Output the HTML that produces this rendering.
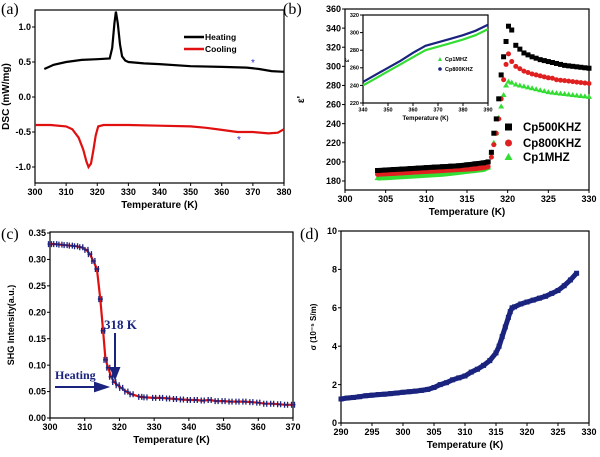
<!DOCTYPE html>
<html><head><meta charset="utf-8"><style>
html,body{margin:0;padding:0;background:#fff}
svg{display:block}
</style></head><body>
<svg id="fig" width="600" height="457" viewBox="0 0 600 457" xmlns="http://www.w3.org/2000/svg" font-family="Liberation Sans, sans-serif"></svg>
<script>
// Panel a data
const aHeatT=[303,306,310,315,320,324,324.8,325.5,326,326.6,327.3,328,329,330,335,340,350,360,368,372,376,380];
const aHeatV=[0.40,0.46,0.50,0.53,0.54,0.55,0.7,1.05,1.22,1.05,0.75,0.58,0.52,0.50,0.48,0.47,0.44,0.43,0.42,0.40,0.37,0.36];
const aCoolT=[300,305,310,312,314,315.5,316.5,317.2,318,318.8,319.5,320.3,322,330,340,350,355,360,365,370,375,378,380];
const aCoolV=[-0.40,-0.40,-0.42,-0.46,-0.58,-0.75,-0.92,-1.0,-0.95,-0.75,-0.55,-0.42,-0.40,-0.40,-0.41,-0.42,-0.44,-0.47,-0.50,-0.50,-0.52,-0.51,-0.46];
const aXTicks=[300,310,320,330,340,350,360,370,380];
const aYTicks=[1.0,0.5,0.0,-0.5,-1.0];
const aYLabels=["1.0","0.5","0.0","-0.5","-1.0"];
// Panel b data
const bT=[304,305,306,307,308,309,310,311,312,313,314,315,316,317,317.6,318,318.3,318.6,318.9,319.2,319.5,319.8,320.1,320.5,321,321.5,322,322.5,323,323.5,324,324.5,325,325.5,326,326.5,327,327.5,328,328.5,329,329.5,330];
const b500=[191,191.5,192,192.5,193,193.5,194,194.5,195,195.5,196,197,198,199,200,210,230,245,266,291,310,326,342,338,322,318,314,312,310,308.5,307,306,305,304,303,302,301,300.5,300,299.5,299,298.5,298];
const b800=[187,187.5,188,188.5,189,189.5,190,190.5,191,191.5,192,192.5,193,194,195,205,218,230,245,266,286,302,313,305,300,297.5,295,293.5,292,291,290,289,288,287.5,286,285.5,285,284.5,284,283.5,283,282.5,282];
const b1M=[183,183.5,184,184.5,185,185.5,186,186.5,187,188,189,190,191,192,194,210,220,230,246,258,270,280,284,283,281,280,279,278,277,276,275,274,273,272.5,272,271.5,271,270.5,270,269.5,269,268.5,268];
const bXTicks=[300,305,310,315,320,325,330];
const bYTicks=[180,200,220,240,260,280,300,320,340,360];
const insT=[340,345,350,355,360,365,370,375,380,385,390];
const insBlue=[244,252,260,268,277,285,289,293,297,302,309];
const insGreen=[240,248,256,264,272,280,284,288,292,297,304];
const insXTicks=[340,350,360,370,380,390];
const insYTicks=[220,240,260,280,300,320];
// Panel c data
const cT=[300,301.5,303,304.5,306,307.5,309,310.5,311.5,312.5,313.5,314.5,315.3,316,316.8,317.6,318.5,319.5,320.5,322,323.5,326,327.5,330,332,334,336,338,340,342,344,346,348,350,352,354,356,358,360,362,364,366,368,370];
const cV=[0.329,0.329,0.328,0.327,0.326,0.325,0.323,0.318,0.31,0.297,0.282,0.225,0.165,0.11,0.095,0.078,0.068,0.062,0.057,0.05,0.045,0.04,0.039,0.038,0.038,0.037,0.036,0.035,0.034,0.034,0.033,0.034,0.032,0.032,0.031,0.031,0.031,0.03,0.029,0.027,0.027,0.026,0.025,0.025];
const cXTicks=[300,310,320,330,340,350,360,370];
const cYTicks=[0,0.05,0.10,0.15,0.20,0.25,0.30,0.35];
const cYLabels=["0.00","0.05","0.10","0.15","0.20","0.25","0.30","0.35"];
// Panel d data
const dT=[290,291,292,293,294,295,296,297,298,299,300,301,302,303,304,305,306,307,308,309,310,311,312,313,314,315,315.5,316,316.5,317,317.3,317.6,318,319,320,321,322,323,324,325,326,327,328];
const dV=[1.25,1.3,1.33,1.37,1.42,1.45,1.48,1.5,1.53,1.56,1.6,1.63,1.66,1.7,1.75,1.85,2.0,2.1,2.25,2.35,2.45,2.65,2.8,3.0,3.25,3.65,4.0,4.5,5.0,5.5,5.8,6.0,6.05,6.2,6.3,6.4,6.5,6.6,6.75,6.9,7.15,7.45,7.8];
const dXTicks=[290,295,300,305,310,315,320,325,330];
const dYTicks=[0,2,4,6,8,10];

const NS="http://www.w3.org/2000/svg";
const svg=document.getElementById('fig');
function el(tag,attrs,parent,txt){const e=document.createElementNS(NS,tag);for(const k in attrs)e.setAttribute(k,attrs[k]);if(txt!==undefined)e.textContent=txt;(parent||svg).appendChild(e);return e;}
function scale(d0,d1,r0,r1){return v=>r0+(v-d0)/(d1-d0)*(r1-r0);}
function axes(g,x0,x1,y0,y1,sx,sy,xt,yt,yl,fs,xtitle,ytitle,ytx,ytitleSize){
  el('rect',{x:x0,y:y0,width:x1-x0,height:y1-y0,fill:'none',stroke:'#000','stroke-width':1.2},g);
  xt.forEach((t,i)=>{const x=sx(t);
    const tk=el('line',{x1:x,x2:x,y1:y1,y2:y1+3,stroke:'#000'},g);
    
    const lb=el('text',{x:x,y:y1+fs+3,'font-size':fs,'font-weight':'bold','text-anchor':'middle'},g,String(t));
    
  });
  yt.forEach((t,i)=>{const y=sy(t);
    const tk=el('line',{x1:x0-3,x2:x0,y1:y,y2:y,stroke:'#000'},g);
    
    const lb=el('text',{x:x0-4,y:y+fs*0.35,'font-size':fs,'font-weight':'bold','text-anchor':'end'},g,yl?yl[i]:String(t));
    
  });
  if(xtitle){const xtl=el('text',{x:(x0+x1)/2,y:y1+fs+16,'font-size':fs+1,'font-weight':'bold','text-anchor':'middle'},g,xtitle);
    }
  if(ytitle){const cy=(y0+y1)/2;const ytl=el('text',{x:ytx,y:cy,'font-size':ytitleSize||fs,'font-weight':'bold','text-anchor':'middle',transform:`rotate(-90 ${ytx} ${cy})`},g,ytitle);
    }
}
function pathD(xs,ys,sx,sy){return xs.map((t,i)=>(i?'L':'M')+sx(t).toFixed(1)+','+sy(ys[i]).toFixed(1)).join('');}
function plabel(txt,x,y){const t=el('text',{x:x,y:y,'font-size':16,'font-family':'Liberation Serif, serif'},svg,txt);}

// ---- Panel a
{const g=el('g',{});
const sx=scale(300,380,35,284),sy=scale(0,1,97,27);
axes(g,35,284,10,183,sx,sy,aXTicks,aYTicks,aYLabels,9,'Temperature (K)','DSC (mW/mg)',9,10);
const h=el('path',{d:pathD(aHeatT,aHeatV,sx,sy),fill:'none',stroke:'#000','stroke-width':2.2},g);

const c=el('path',{d:pathD(aCoolT,aCoolV,sx,sy),fill:'none',stroke:'#e01010','stroke-width':2.2},g);

const l1=el('line',{x1:184,x2:204,y1:37,y2:37,stroke:'#000','stroke-width':2.5},g);
const t1=el('text',{x:205,y:40,'font-size':8.5,'font-weight':'bold'},g,'Heating');
const l2=el('line',{x1:184,x2:204,y1:49,y2:49,stroke:'#e01010','stroke-width':2.5},g);
const t2=el('text',{x:205,y:52,'font-size':8.5,'font-weight':'bold'},g,'Cooling');
const s1=el('text',{x:253,y:66,'font-size':10,fill:'#3030d0','text-anchor':'middle'},g,'*');
const s2=el('text',{x:239,y:143,'font-size':10,fill:'#3030d0','text-anchor':'middle'},g,'*');
}
plabel('(a)',1,14);

// ---- Panel b
{const g=el('g',{});
const sx=scale(300,330,345,589),sy=scale(180,360,181,9);
axes(g,345,589,9,190,sx,sy,bXTicks,bYTicks,null,9,'Temperature (K)',"ε'",304,10);
function marks(vals,color,shape,name){vals.forEach((v,i)=>{const x=sx(bT[i]),y=sy(v);let m;
  if(shape==='sq')m=el('rect',{x:x-2.5,y:y-2.5,width:5,height:5,fill:color},g);
  else if(shape==='ci')m=el('circle',{cx:x,cy:y,r:2.5,fill:color},g);
  else m=el('polygon',{points:`${x},${y-3} ${x-3},${y+2} ${x+3},${y+2}`,fill:color},g);
  });
  const l=el('path',{d:pathD(bT.slice(0,15),vals.slice(0,15),sx,sy),fill:'none',stroke:color,'stroke-width':5},g);
  }
marks(b1M,'#33dd33','tr','cp1mhz-point');
marks(b800,'#e02020','ci','cp800khz-point');
marks(b500,'#000','sq','cp500khz-point');
const leg=[['Cp500KHZ','#000','sq',127],['Cp800KHZ','#e02020','ci',143],['Cp1MHZ','#33dd33','tr',157]];
leg.forEach(([n,c,s,y])=>{let m;
  if(s==='sq')m=el('rect',{x:505,y:y-3.5,width:7,height:7,fill:c},g);
  else if(s==='ci')m=el('circle',{cx:508.5,cy:y,r:3.5,fill:c},g);
  else m=el('polygon',{points:`508.5,${y-4} 504.5,${y+3} 512.5,${y+3}`,fill:c},g);
  
  const t=el('text',{x:523,y:y+4,'font-size':11.5,'font-weight':'bold'},g,n);});
// inset
const isx=scale(340,390,363,488),isy=scale(220,320,103,15);
el('rect',{x:363,y:15,width:125,height:88,fill:'#fff'},g);
axes(g,363,488,15,103,isx,isy,insXTicks,insYTicks,null,5.5,null,null);
const it=el('text',{x:425.5,y:120,'font-size':6,'font-weight':'bold','text-anchor':'middle'},g,'Temperature (K)');
const iy=el('text',{x:349,y:60,'font-size':6,'font-weight':'bold','text-anchor':'middle',transform:'rotate(-90 349 60)'},g,"ε'");
const lb=el('path',{d:pathD(insT,insBlue,isx,isy),fill:'none',stroke:'#1a237e','stroke-width':2.2},g);
const lg=el('path',{d:pathD(insT,insGreen,isx,isy),fill:'none',stroke:'#33dd33','stroke-width':2.2},g);
const m1=el('polygon',{points:'440,57 438,61 442,61',fill:'#33dd33'},g);
const i1=el('text',{x:445,y:61,'font-size':5.5,'font-weight':'bold'},g,'Cp1MHZ');
const m2=el('circle',{cx:440,cy:69,r:1.8,fill:'#1a237e'},g);
const i2=el('text',{x:445,y:71,'font-size':5.5,'font-weight':'bold'},g,'Cp800KHZ');
}
plabel('(b)',283,14);

// ---- Panel c
{const g=el('g',{});
const sx=scale(300,370,50,293),sy=scale(0,0.35,418,233);
axes(g,50,293,232,418,sx,sy,cXTicks,cYTicks,cYLabels,9,'Temperature (K)','SHG Intensity(a.u.)',14,9);
const l=el('path',{d:pathD(cT,cV,sx,sy),fill:'none',stroke:'#e01010','stroke-width':2.2},g);
cT.forEach((t,i)=>{const x=sx(t),y=sy(cV[i]);
  const m=el('path',{d:`M${x-1.5},${y-3}L${x-1.5},${y+3}M${x+1.5},${y-3}L${x+1.5},${y+3}M${x-2.5},${y}L${x+2.5},${y}`,stroke:'#1a237e','stroke-width':1.3,fill:'none'},g);
  });
const t1=el('text',{x:104,y:329,'font-size':13,'font-weight':'bold','font-family':'Liberation Serif, serif',fill:'#1a237e'},g,'318 K');
const a1=el('path',{d:'M115,333L115,373M111,368L115,378L119,368Z',stroke:'#1a237e','stroke-width':2,fill:'#1a237e'},g);
const t2=el('text',{x:55,y:379,'font-size':12,'font-weight':'bold','font-family':'Liberation Serif, serif',fill:'#1a237e'},g,'Heating');
const a2=el('path',{d:'M55,387L100,387M95,383L107,387L95,391Z',stroke:'#1a237e','stroke-width':2,fill:'#1a237e'},g);
}
plabel('(c)',1,239);

// ---- Panel d
{const g=el('g',{});
const sx=scale(290,330,341,589),sy=scale(0,10,423,231);
axes(g,341,589,231,423,sx,sy,dXTicks,dYTicks,null,9,'Temperature (K)','σ (10⁻⁵ S/m)',316,8);
dT.forEach((t,i)=>{const x=sx(t),y=sy(dV[i]);
  const m=el('rect',{x:x-2.5,y:y-2.5,width:5,height:5,fill:'#1a237e'},g);});
const l=el('path',{d:pathD(dT,dV,sx,sy),fill:'none',stroke:'#1a237e','stroke-width':5},g);
}
plabel('(d)',300,239);
</script>
</body></html>
